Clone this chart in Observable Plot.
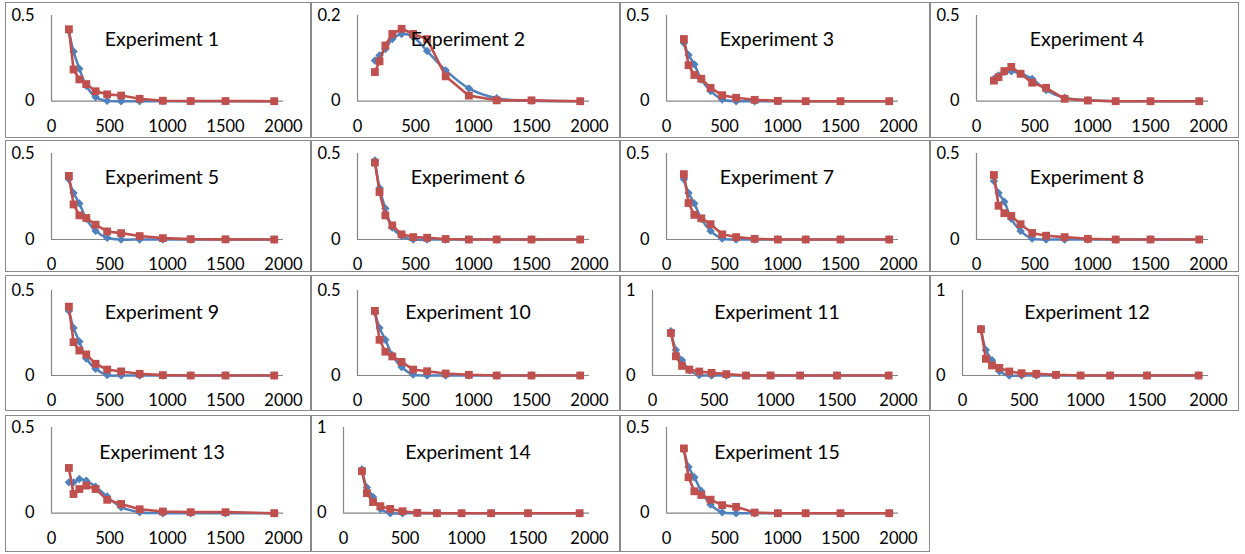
<!DOCTYPE html>
<html>
<head>
<meta charset="utf-8">
<script src="https://cdn.jsdelivr.net/npm/d3@7"></script>
<script src="https://cdn.jsdelivr.net/npm/@observablehq/plot@0.6"></script>
<style>
  html, body { margin: 0; padding: 0; background: #fff; }
  #root { position: relative; width: 1245px; height: 554px; overflow: hidden; font-family: Lato, "Open Sans", sans-serif; }
  .panel { position: absolute; background: #fff; }
  .panel svg { position: absolute; left: 0; top: 0; overflow: visible; }
  .border { position: absolute; left: 0; top: 0; right: 0; bottom: 0; border: 1.5px solid #8a8a8a; box-sizing: border-box; pointer-events: none; }
  .title { position: absolute; transform: translate(-50%, -50%); white-space: nowrap; font-size: 19.5px; color: #000; }
</style>
</head>
<body>
<div id="root"></div>
<script>
// ---- data ----
const sizes = [150, 190, 240, 300, 380, 480, 600, 760, 960, 1200, 1500, 1920];
const titles = ["Experiment 1","Experiment 2","Experiment 3","Experiment 4","Experiment 5",
  "Experiment 6","Experiment 7","Experiment 8","Experiment 9","Experiment 10",
  "Experiment 11","Experiment 12","Experiment 13","Experiment 14","Experiment 15"];
const yMax = [0.5, 0.2, 0.5, 0.5, 0.5, 0.5, 0.5, 0.5, 0.5, 0.5, 1, 1, 0.5, 1, 0.5];
const xTicks = [0, 500, 1000, 1500, 2000];

// blue series (diamonds, smoothed line)
const blueSeries = [
  [0.41, 0.29, 0.19, 0.09, 0.025, 0.002, 0.0, 0, 0, 0, 0, 0],
  [0.095, 0.107, 0.122, 0.145, 0.157, 0.15, 0.117, 0.072, 0.03, 0.007, 0.001, 0],
  [0.34, 0.27, 0.215, 0.127, 0.06, 0.01, 0, 0, 0, 0, 0, 0],
  [0.13, 0.15, 0.17, 0.175, 0.16, 0.13, 0.065, 0.02, 0.006, 0, 0, 0],
  [0.35, 0.27, 0.21, 0.12, 0.05, 0.01, 0, 0, 0, 0, 0, 0],
  [0.46, 0.30, 0.18, 0.07, 0.02, 0, 0, 0, 0, 0, 0, 0],
  [0.35, 0.27, 0.21, 0.12, 0.05, 0.005, 0, 0, 0, 0, 0, 0],
  [0.34, 0.27, 0.22, 0.12, 0.05, 0.005, 0, 0, 0, 0, 0, 0],
  [0.38, 0.28, 0.20, 0.10, 0.04, 0.003, 0, 0, 0, 0, 0, 0],
  [0.37, 0.28, 0.21, 0.12, 0.05, 0.005, 0, 0, 0, 0, 0, 0],
  [0.52, 0.30, 0.18, 0.06, 0.005, 0, 0, 0, 0, 0, 0, 0],
  [0.55, 0.30, 0.18, 0.05, 0, 0, 0, 0, 0, 0, 0, 0],
  [0.18, 0.18, 0.20, 0.19, 0.155, 0.097, 0.035, 0.006, 0, 0, 0, 0],
  [0.51, 0.30, 0.19, 0.05, 0, 0, 0, 0, 0, 0, 0, 0],
  [0.37, 0.27, 0.21, 0.13, 0.05, 0.005, 0, 0, 0, 0, 0, 0]
];
// red series (squares, straight line)
const redSeries = [
  [0.42, 0.185, 0.127, 0.10, 0.058, 0.04, 0.033, 0.014, 0.003, 0.001, 0.001, 0],
  [0.068, 0.093, 0.13, 0.157, 0.169, 0.157, 0.145, 0.058, 0.013, 0.002, 0.002, 0],
  [0.363, 0.21, 0.153, 0.131, 0.078, 0.035, 0.02, 0.008, 0.002, 0, 0, 0],
  [0.12, 0.14, 0.176, 0.20, 0.16, 0.108, 0.078, 0.014, 0.004, 0, 0, 0],
  [0.37, 0.204, 0.14, 0.125, 0.086, 0.047, 0.037, 0.02, 0.008, 0.002, 0.001, 0],
  [0.447, 0.276, 0.14, 0.082, 0.03, 0.014, 0.01, 0.003, 0, 0, 0, 0],
  [0.38, 0.212, 0.143, 0.123, 0.089, 0.03, 0.014, 0.004, 0, 0, 0, 0],
  [0.375, 0.196, 0.153, 0.137, 0.089, 0.038, 0.022, 0.014, 0.004, 0, 0, 0],
  [0.405, 0.196, 0.147, 0.124, 0.069, 0.035, 0.024, 0.01, 0.002, 0, 0, 0],
  [0.38, 0.21, 0.14, 0.112, 0.08, 0.035, 0.025, 0.012, 0.004, 0, 0, 0],
  [0.50, 0.226, 0.113, 0.07, 0.047, 0.031, 0.016, 0, 0, 0, 0, 0],
  [0.545, 0.196, 0.118, 0.09, 0.047, 0.027, 0.02, 0.008, 0, 0, 0, 0],
  [0.264, 0.112, 0.141, 0.161, 0.141, 0.078, 0.054, 0.023, 0.01, 0.006, 0.006, 0],
  [0.49, 0.234, 0.13, 0.082, 0.05, 0.023, 0.004, 0, 0, 0, 0, 0],
  [0.378, 0.21, 0.128, 0.106, 0.079, 0.047, 0.037, 0.004, 0, 0, 0, 0]
];

// ---- layout ----
const colLeft = [5, 311, 620, 930];
const colWidth = [306, 309, 310, 309];
const rowTop = [2, 140, 275, 415];
const rowHeight = [136, 132, 136, 137];
const rowMarginTop = [13, 13, 15, 12];
const rowZero = [98.7, 99, 100, 97.7];

const BLUE = "#4F81BD", RED = "#C0504D", AXIS = "#868686";
const root = document.getElementById("root");

titles.forEach((title, i) => {
  const r = Math.floor(i / 4), c = i % 4;
  const w = colWidth[c], h = rowHeight[r];
  const narrow = yMax[i] === 1;
  const mL = narrow ? 32 : 46;
  const mR = w - 278;
  const mT = rowMarginTop[r];
  const mB = h - rowZero[r];
  const blue = sizes.map((x, k) => ({x, y: blueSeries[i][k]}));
  const red = sizes.map((x, k) => ({x, y: redSeries[i][k]}));

  const chart = Plot.plot({
    width: w, height: h,
    marginLeft: mL, marginRight: mR, marginTop: mT, marginBottom: mB,
    style: {fontFamily: "Lato, 'Open Sans', sans-serif", fontSize: "16.5px", color: "#000", background: "transparent"},
    x: {domain: [0, 2000]},
    y: {domain: [0, yMax[i]]},
    marks: [
      Plot.ruleY([0], {stroke: AXIS, strokeWidth: 1.2}),
      Plot.ruleX([0], {stroke: AXIS, strokeWidth: 1.2}),
      Plot.axisX({ticks: xTicks, tickSize: 0, tickPadding: 19, tickFormat: d => String(d), fill: "#000", label: null}),
      Plot.axisY({ticks: [0, yMax[i]], tickSize: 0, tickPadding: 17, tickFormat: d => String(d), fill: "#000", label: null}),
      Plot.line(blue, {x: "x", y: "y", stroke: BLUE, strokeWidth: 2.5, curve: "catmull-rom"}),
      Plot.dot(blue, {x: "x", y: "y", symbol: "diamond2", r: 3.8, fill: BLUE, stroke: "none"}),
      Plot.line(red, {x: "x", y: "y", stroke: RED, strokeWidth: 2.6}),
      Plot.dot(red, {x: "x", y: "y", symbol: "square", r: 4.4, fill: RED, stroke: "none"})
    ]
  });

  const panel = document.createElement("div");
  panel.className = "panel";
  panel.style.left = colLeft[c] + "px";
  panel.style.top = rowTop[r] + "px";
  panel.style.width = w + "px";
  panel.style.height = h + "px";
  panel.appendChild(chart);
  const t = document.createElement("div");
  t.className = "title";
  t.textContent = title;
  t.style.left = "157px";
  t.style.top = "36px";
  panel.appendChild(t);
  const b = document.createElement("div");
  b.className = "border";
  panel.appendChild(b);
  root.appendChild(panel);
});
</script>
</body>
</html>
